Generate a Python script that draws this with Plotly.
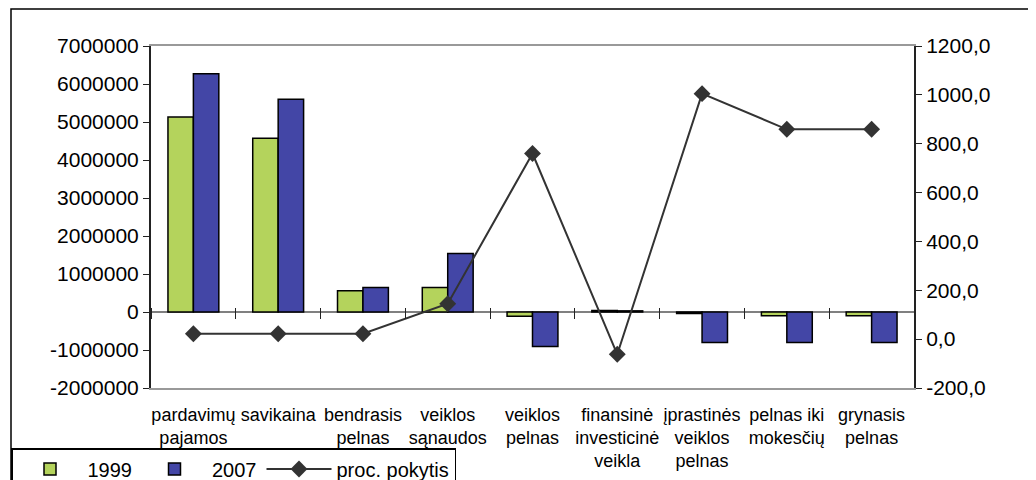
import plotly.graph_objects as go

categories = ["pardavimų<br>pajamos", "savikaina", "bendrasis<br>pelnas", "veiklos<br>sąnaudos",
              "veiklos<br>pelnas", "finansinė<br>investicinė<br>veikla", "įprastinės<br>veiklos<br>pelnas",
              "pelnas iki<br>mokesčių", "grynasis<br>pelnas"]
v1999 = [5130000, 4570000, 556000, 646000, -110000, 40000, -40000, -100000, -100000]
v2007 = [6270000, 5600000, 646000, 1540000, -910000, 30000, -800000, -800000, -800000]
pokytis = [22.3, 22.3, 22.3, 145.0, 760.0, -62.0, 1005.0, 859.0, 859.0]

y1_ticks = [7000000, 6000000, 5000000, 4000000, 3000000, 2000000, 1000000, 0, -1000000, -2000000]
y1_labels = ["7000000", "6000000", "5000000", "4000000", "3000000", "2000000", "1000000", "0",
             "-1000000", "-2000000"]
y2_ticks = [1200, 1000, 800, 600, 400, 200, 0, -200]
y2_labels = ["1200,0", "1000,0", "800,0", "600,0", "400,0", "200,0", "0,0", "-200,0"]

W, H = 1036, 480
OFF = 8  # page body margin
L, T = 151 - OFF, 46 - OFF
R, B = W - (914 - OFF), H - (388 - OFF)
pw, ph = W - L - R, H - T - B
font = "Liberation Sans, Arial, sans-serif"

fig = go.Figure()
fig.add_trace(go.Bar(name="1999", x=categories, y=v1999,
                     marker=dict(color="#b4d35c", line=dict(color="black", width=1.5))))
fig.add_trace(go.Bar(name="2007", x=categories, y=v2007,
                     marker=dict(color="#4346a6", line=dict(color="black", width=1.5))))
fig.add_trace(go.Scatter(name="proc. pokytis", x=categories, y=pokytis, xaxis="x2", yaxis="y2",
                         mode="lines+markers", line=dict(color="#333333", width=2),
                         marker=dict(symbol="diamond", size=13, color="#333333")))

# zero position of the left axis, as a fraction of the plot height
zero_frac = (0 - y1_ticks[-1]) / (y1_ticks[0] - y1_ticks[-1])

fig.update_layout(
    width=W, height=H,
    margin=dict(l=L, r=R, t=T, b=B, autoexpand=False),
    paper_bgcolor="white", plot_bgcolor="white",
    font=dict(family=font, color="black"),
    barmode="group", bargap=0.4, bargroupgap=0,
    showlegend=True,
    legend=dict(orientation="h", x=(11 - OFF - L) / pw, xanchor="left",
                y=(T + ph - (448 - OFF)) / ph, yanchor="top",
                bordercolor="black", borderwidth=1.5, font=dict(size=20), bgcolor="white",
                traceorder="normal", itemwidth=65, tracegroupgap=0),
    xaxis=dict(type="category", categoryorder="array", categoryarray=categories,
               range=[-0.5, len(categories) - 0.5], automargin=False, tickangle=0,
               showline=True, linecolor="#999999", linewidth=2, mirror=True,
               ticks="", tickfont=dict(size=18), ticklabelstandoff=9, showgrid=False),
    xaxis2=dict(type="category", categoryorder="array", categoryarray=categories,
                range=[-0.5, len(categories) - 0.5], overlaying="x", anchor="free",
                position=zero_frac + 5.5 / ph, showline=False, showticklabels=False,
                ticks="outside", ticklen=11, tickcolor="#222222", tickwidth=1,
                tickson="boundaries", showgrid=False, automargin=False),
    yaxis=dict(range=[y1_ticks[-1], y1_ticks[0]], tickvals=y1_ticks, ticktext=y1_labels,
               showline=True, linecolor="#222222", linewidth=2, ticks="outside", ticklen=6,
               tickcolor="#222222", tickfont=dict(size=21), showgrid=False, automargin=False,
               zeroline=True, zerolinecolor="#808080", zerolinewidth=1.5),
    yaxis2=dict(range=[y2_ticks[-1], y2_ticks[0]], tickvals=y2_ticks, ticktext=y2_labels,
                overlaying="y", side="right", anchor="x", automargin=False,
                showline=True, linecolor="#222222", linewidth=2, ticks="outside", ticklen=6,
                tickcolor="#222222", tickfont=dict(size=21), showgrid=False, zeroline=False),
)

# outer chart frame
fig.add_shape(type="rect", xref="paper", yref="paper", layer="below",
              x0=(11 - OFF - L) / pw, x1=(W + 5 - L) / pw,
              y0=(T + ph - H - 5) / ph, y1=(T + ph - (9 - OFF)) / ph,
              line=dict(color="black", width=1.5))

fig.write_html("out.html")
